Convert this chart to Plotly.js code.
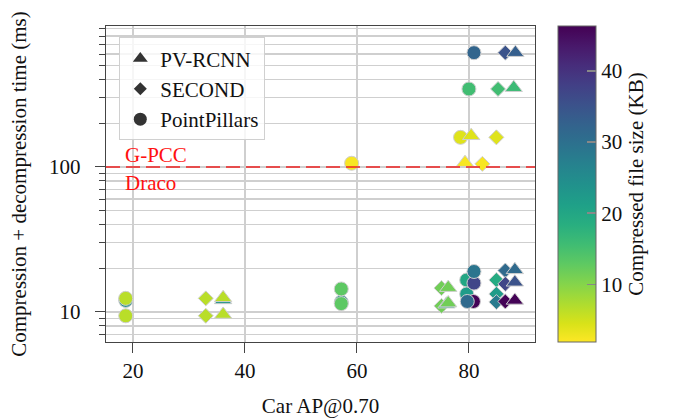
<!DOCTYPE html>
<html>
<head>
<meta charset="utf-8">
<script src="https://cdn.plot.ly/plotly-3.0.1.min.js"></script>
<style>html,body{margin:0;padding:0;background:#fff;}#chart{width:689px;height:418px;}</style>
</head>
<body>
<div id="chart"></div>
<script>
// PV-RCNN (triangles)
const pvX  = [36.1, 36.1, 36.1, 76.3, 76.0, 76.3, 88.2, 88.2, 88.2, 88.3, 88.0, 80.4, 79.3];
const pvY  = [12.1, 12.5, 9.6, 14.7, 11.3, 11.5, 19.5, 16.0, 12.0, 614, 352, 164, 107];
const pvKB = [24, 6.5, 6.5, 11.5, 20, 11.5, 31, 35, 46, 33, 16, 4, 2.3];
// SECOND (diamonds)
const seX  = [33.0, 33.0, 75.1, 75.1, 84.9, 84.9, 84.9, 86.5, 86.5, 86.5, 86.5, 85.2, 84.9, 82.4];
const seY  = [12.4, 9.4, 14.6, 11.0, 16.6, 13.3, 11.7, 19.3, 15.6, 11.8, 614, 345, 160, 105];
const seKB = [6.5, 6.5, 11.5, 11.5, 19, 22, 28, 31, 37, 46, 35, 15.5, 4, 2.3];
// PointPillars (circles)
const ppX  = [18.7, 18.7, 18.7, 57.2, 57.2, 57.2, 79.6, 79.6, 80.8, 80.9, 80.9, 79.7, 80.9, 80.0, 78.5, 59.05];
const ppY  = [12.0, 12.4, 9.4, 11.7, 14.4, 11.4, 16.6, 13.3, 11.8, 15.8, 19.0, 11.8, 614, 345, 160, 106];
const ppKB = [24, 6.5, 6.5, 24, 13, 13, 20, 22, 46, 37, 29, 31, 32, 15.5, 4, 2.3];

const legendNames = ['PV-RCNN', 'SECOND', 'PointPillars'];
const codecTime = 100; // G-PCC / Draco reference time (ms)

const FONT = 'Liberation Serif, Times New Roman, serif';
const FS = 21;
const edge = {color: '#cfcfcf', width: 1};

function dataTrace(x, y, kb, symbol, size) {
  return {
    type: 'scatter', mode: 'markers', x: x, y: y, showlegend: false, hoverinfo: 'skip',
    marker: {symbol: symbol, size: size, color: kb, coloraxis: 'coloraxis', line: edge}
  };
}
function legendTrace(name, symbol, size) {
  return {
    type: 'scatter', mode: 'markers', x: [null], y: [null], name: name,
    marker: {symbol: symbol, size: size, color: '#333333'}
  };
}

const traces = [
  legendTrace(legendNames[0], 'triangle-up', 13),
  legendTrace(legendNames[1], 'diamond', 10),
  legendTrace(legendNames[2], 'circle', 13),
  dataTrace(ppX, ppY, ppKB, 'circle', 14),
  dataTrace(seX, seY, seKB, 'diamond', 11.5),
  dataTrace(pvX, pvY, pvKB, 'triangle-up', 15)
];

const minorVals = [7,8,9,20,30,40,50,60,70,80,90,200,300,400,500,600,700,800,900];

const layout = {
  width: 689, height: 418,
  margin: {l: 106, r: 154, t: 26, b: 76},
  paper_bgcolor: '#ffffff', plot_bgcolor: '#ffffff',
  font: {family: FONT, size: FS, color: '#111'},
  showlegend: true,
  legend: {
    x: 0.031, y: 0.964, xanchor: 'left', yanchor: 'top',
    bgcolor: 'rgba(255,255,255,0.8)', bordercolor: '#d0d0d0', borderwidth: 1,
    font: {family: FONT, size: FS, color: '#111'},
    itemwidth: 30, tracegroupgap: 0
  },
  xaxis: {
    range: [15.18, 91.8],
    tickvals: [20, 40, 60, 80],
    ticks: 'outside', ticklen: 10, tickcolor: '#444', tickwidth: 1,
    showgrid: true, gridcolor: '#cfcfcf', gridwidth: 1.3,
    showline: true, linecolor: '#444', linewidth: 1.2, mirror: true,
    zeroline: false,
    tickfont: {family: FONT, size: FS, color: '#111'},
    title: {text: 'Car AP@0.70', font: {family: FONT, size: FS, color: '#111'}, standoff: 22}
  },
  yaxis: {
    type: 'log',
    range: [Math.log10(6.2), Math.log10(938)],
    tickvals: [10, 100], ticktext: ['10', '100'],
    ticks: 'outside', ticklen: 10, tickcolor: '#444', tickwidth: 1,
    ticklabelstandoff: 10,
    showgrid: true, gridcolor: '#cfcfcf', gridwidth: 1.3,
    minor: {tickvals: minorVals, ticks: 'outside', ticklen: 6, tickcolor: '#444', showgrid: true, gridcolor: '#cfcfcf', gridwidth: 1.3},
    showline: true, linecolor: '#444', linewidth: 1.2, mirror: true,
    zeroline: false,
    tickfont: {family: FONT, size: FS, color: '#111'},
    title: {text: 'Compression + decompression time (ms)', font: {family: FONT, size: FS, color: '#111'}, standoff: 16}
  },
  coloraxis: {
    colorscale: 'Viridis', reversescale: true, cmin: 1.9, cmax: 46.3,
    colorbar: {
      x: 1.0536, xanchor: 'left', y: 0.5, yanchor: 'middle', len: 1, lenmode: 'fraction',
      thickness: 38, thicknessmode: 'pixels',
      outlinecolor: '#666', outlinewidth: 1,
      tickvals: [10, 20, 30, 40],
      ticks: 'inside', ticklen: 9, tickcolor: '#888', tickwidth: 1.5,
      tickfont: {family: FONT, size: FS, color: '#111'},
      xpad: 0, ypad: 0,
      title: {text: 'Compressed file size (KB)', side: 'right', font: {family: FONT, size: FS, color: '#111'}}
    }
  },
  shapes: [{
    type: 'line', xref: 'paper', x0: 0, x1: 1, yref: 'y', y0: codecTime, y1: codecTime,
    line: {color: '#ee2222', width: 1.6, dash: '14px,6px'}, layer: 'above'
  }],
  annotations: [
    {xref: 'paper', x: 0.04, xanchor: 'left', yref: 'y', y: Math.log10(codecTime) + 0.083, yanchor: 'middle',
     text: 'G-PCC', showarrow: false, font: {family: FONT, size: FS, color: '#ff1111'}},
    {xref: 'paper', x: 0.04, xanchor: 'left', yref: 'y', y: Math.log10(codecTime) - 0.11, yanchor: 'middle',
     text: 'Draco', showarrow: false, font: {family: FONT, size: FS, color: '#ff1111'}}
  ]
};

Plotly.newPlot('chart', traces, layout, {staticPlot: true, displayModeBar: false});
</script>
</body>
</html>
